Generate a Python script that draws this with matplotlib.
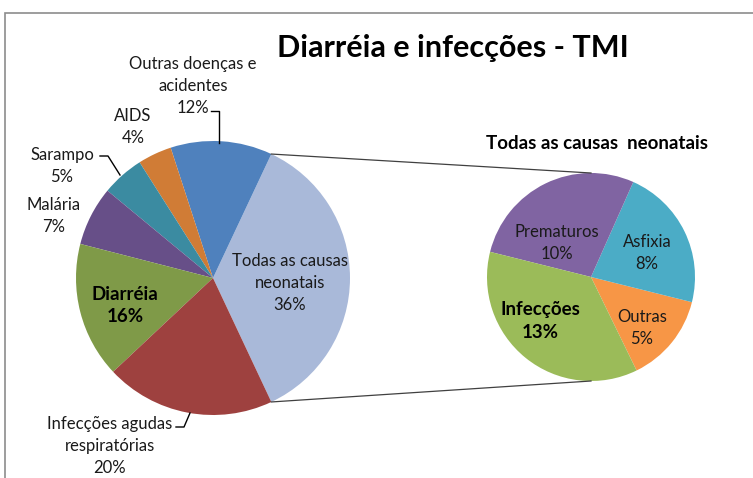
import numpy as np
import matplotlib.pyplot as plt
from matplotlib.patches import Rectangle

plt.rcParams['font.family'] = ['Lato', 'DejaVu Sans']

# main pie, counterclockwise starting with the split slice
main_labels = ['Todas as causas\nneonatais', 'Outras doenças e\nacidentes', 'AIDS', 'Sarampo',
               'Malária', 'Diarréia', 'Infecções agudas\nrespiratórias']
main_values = [36, 12, 4, 5, 7, 16, 20]
main_colors = ['#A9B9D9', '#4F81BD', '#D07C36', '#3B8BA1', '#674F88', '#7F9A48', '#9E413F']

# secondary pie (breakdown of the neonatal causes)
sub_labels = ['Outras', 'Asfixia', 'Prematuros', 'Infecções']
sub_values = [5, 8, 10, 13]
sub_colors = ['#F79646', '#4BACC6', '#8064A2', '#9BBB59']

W, H = 753, 478
fig = plt.figure(figsize=(W / 100, H / 100), dpi=100)
ax = fig.add_axes([0, 0, 1, 1])


def Y(y):
    # image pixel row -> data y
    return H - y


# chart frame (cut off at the right and bottom)
ax.add_patch(Rectangle((5, Y(490)), 800, 477, fill=False, ec='#8c8c8c', lw=1.2))

c1, r1 = (213, Y(278)), 137
c2, r2 = (591, Y(277)), 104

half = main_values[0] / sum(main_values) * 180
w1, _ = ax.pie(main_values, colors=main_colors, startangle=-half, counterclock=True,
               center=c1, radius=r1, wedgeprops=dict(linewidth=0), frame=True)
w2, _ = ax.pie(sub_values, colors=sub_colors, startangle=-64, counterclock=True,
               center=c2, radius=r2, wedgeprops=dict(linewidth=0), frame=True)
ax.set_xlim(0, W)
ax.set_ylim(0, H)
ax.set_aspect('equal')
ax.axis('off')

# connector lines from the split slice to the secondary pie
for ang, side in [(w1[0].theta2, 1), (w1[0].theta1, -1)]:
    a = np.radians(ang)
    x0, y0 = c1[0] + r1 * np.cos(a), c1[1] + r1 * np.sin(a)
    ax.plot([x0, c2[0]], [y0, c2[1] + side * r2], color='#404040', lw=0.9)

txt = '#1a1a1a'
fs = 12
fsb = 13.5
step = 22


def label(x, y_top, name, value, bold=False):
    # one text per line, first line centred at y_top (image pixels)
    lines = name.split('\n') + [f'{value}%']
    for i, s in enumerate(lines):
        ax.text(x, Y(y_top + i * step), s, ha='center', va='center',
                fontsize=fsb if bold else fs, color='black' if bold else txt,
                fontweight='bold' if bold else 'normal')


# main pie labels
label(290, 261, main_labels[0], main_values[0])
label(193, 64, main_labels[1], main_values[1])
label(133, 116, main_labels[2], main_values[2])
label(62, 155, main_labels[3], main_values[3])
label(54, 205, main_labels[4], main_values[4])
label(125, 295, main_labels[5], main_values[5], bold=True)
label(110, 424, main_labels[6], main_values[6])

# leader lines
ax.plot([211, 219, 219], [Y(111), Y(111), Y(143)], color='black', lw=1)
ax.plot([100, 108, 120], [Y(156), Y(156), Y(175)], color='black', lw=1)
ax.plot([176, 184, 190], [Y(427), Y(427), Y(413)], color='black', lw=1)

# secondary pie labels
label(642, 317, sub_labels[0], sub_values[0])
label(647, 242, sub_labels[1], sub_values[1])
label(557, 232, sub_labels[2], sub_values[2])
label(540, 310, sub_labels[3], sub_values[3], bold=True)

ax.text(453, Y(48), 'Diarréia e infecções - TMI', ha='center', va='center',
        fontsize=22, fontweight='bold', color='black')
ax.text(597, Y(143), 'Todas as causas  neonatais', ha='center', va='center',
        fontsize=13.5, fontweight='bold', color='black')

fig.savefig('out.png', dpi=100)
